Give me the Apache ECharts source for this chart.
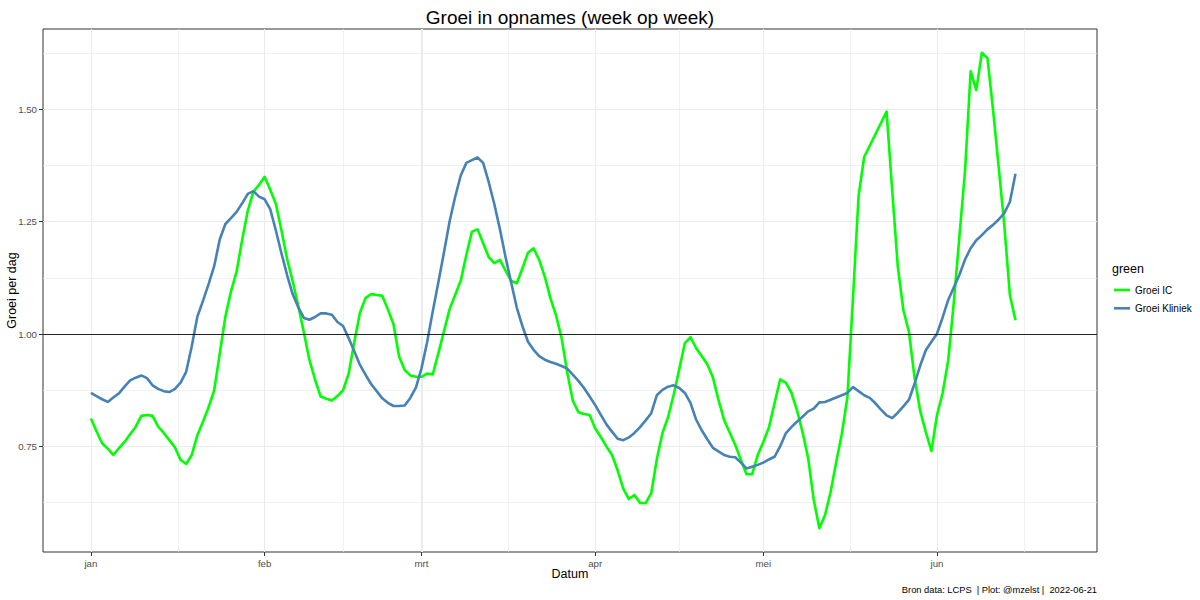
<!DOCTYPE html>
<html><head><meta charset="utf-8">
<script src="https://cdn.jsdelivr.net/npm/echarts@6/dist/echarts.min.js"></script>
<style>html,body{margin:0;padding:0;background:#fff}#c{width:1200px;height:600px}</style>
</head><body><div id="c"></div>
<script>
// x values are days since 2022-01-01
const monthStarts = [0, 31, 59, 90, 120, 151];
const monthLabels = ['jan', 'feb', 'mrt', 'apr', 'mei', 'jun'];
const minorX = [15.5, 45, 74.5, 105, 135.5, 166.5];
const marchLine = [59];
const yTicks = [0.75, 1.00, 1.25, 1.50];
const yMinor = [0.625, 0.875, 1.125, 1.375, 1.625];
const lastDay = 171; // 2022-06-21

const icDays = [0,1,2,3,4,5,6,7,8,9,10,11,12,13,14,15,16,17,18,19,20,21,22,23,24,25,26,27,28,29,30,31,32,33,34,35,36,37,38,39,40,41,42,43,44,45,46,47,48,49,50,51,52,53,54,55,56,57,58,59,60,61,62,63,64,65,66,67,68,69,70,71,72,73,74,75,76,77,78,79,80,81,82,83,84,85,86,87,88,89,90,91,92,93,94,95,96,97,98,99,100,101,102,103,104,105,106,107,108,109,110,111,112,113,114,115,116,117,118,119,120,121,122,123,124,125,126,127,128,129,130,131,132,133,134,135,136,137,138,142,143,144,145,146,147,148,149,150,151,152,153,154,155,156,157,158,159,160,161,162,163,164,165];
const icValues = [0.812,0.784,0.757,0.745,0.731,0.746,0.760,0.777,0.794,0.818,0.820,0.818,0.794,0.780,0.764,0.748,0.720,0.711,0.731,0.775,0.805,0.837,0.875,0.957,1.039,1.095,1.139,1.210,1.275,1.317,1.332,1.350,1.321,1.290,1.231,1.168,1.118,1.063,1.004,0.942,0.899,0.861,0.856,0.852,0.862,0.875,0.912,0.982,1.047,1.080,1.089,1.087,1.085,1.055,1.022,0.950,0.920,0.908,0.905,0.905,0.912,0.910,0.957,1.006,1.055,1.087,1.119,1.176,1.228,1.233,1.202,1.171,1.158,1.165,1.141,1.118,1.113,1.146,1.181,1.191,1.165,1.128,1.080,1.042,0.991,0.915,0.852,0.826,0.822,0.820,0.790,0.771,0.750,0.731,0.697,0.656,0.633,0.642,0.624,0.624,0.646,0.722,0.780,0.815,0.865,0.922,0.980,0.993,0.969,0.951,0.933,0.904,0.853,0.809,0.781,0.753,0.720,0.688,0.688,0.731,0.760,0.792,0.846,0.899,0.892,0.870,0.831,0.782,0.724,0.631,0.568,0.597,0.648,0.715,0.777,0.859,1.080,1.307,1.394,1.495,1.320,1.150,1.053,1.004,0.902,0.829,0.782,0.740,0.820,0.869,0.942,1.071,1.218,1.363,1.585,1.543,1.626,1.614,1.499,1.372,1.243,1.087,1.031];

const klDays = [0,1,2,3,4,5,6,7,8,9,10,11,12,13,14,15,16,17,18,19,20,21,22,23,24,25,26,27,28,29,30,31,32,33,34,35,36,37,38,39,40,41,42,43,44,45,46,47,48,49,50,51,52,53,54,55,56,57,58,59,60,61,62,63,64,65,66,67,68,69,70,71,72,73,74,75,76,77,78,79,80,81,82,83,84,85,86,87,88,89,90,91,92,93,94,95,96,97,98,99,100,101,102,103,104,105,106,107,108,109,110,111,112,113,114,115,116,117,118,119,120,121,122,123,124,125,126,127,128,129,130,131,132,133,134,135,136,137,138,139,140,141,142,143,144,145,146,147,148,149,150,151,152,153,154,155,156,157,158,159,160,161,162,163,164,165];
const klValues = [0.869,0.862,0.855,0.849,0.859,0.868,0.883,0.897,0.903,0.908,0.902,0.886,0.878,0.873,0.871,0.878,0.892,0.916,0.973,1.039,1.074,1.111,1.151,1.211,1.245,1.258,1.272,1.291,1.312,1.318,1.306,1.300,1.278,1.231,1.180,1.132,1.089,1.060,1.036,1.032,1.038,1.046,1.046,1.043,1.027,1.018,0.991,0.962,0.932,0.910,0.889,0.873,0.857,0.847,0.840,0.840,0.841,0.858,0.881,0.924,0.982,1.050,1.115,1.181,1.250,1.305,1.353,1.381,1.387,1.393,1.381,1.338,1.289,1.233,1.171,1.115,1.059,1.018,0.983,0.965,0.951,0.943,0.938,0.934,0.929,0.923,0.910,0.896,0.880,0.861,0.842,0.820,0.799,0.783,0.767,0.764,0.770,0.780,0.793,0.808,0.824,0.864,0.876,0.883,0.886,0.880,0.869,0.847,0.810,0.786,0.766,0.747,0.739,0.731,0.727,0.726,0.714,0.701,0.705,0.709,0.714,0.721,0.727,0.750,0.779,0.793,0.805,0.816,0.828,0.834,0.848,0.849,0.854,0.859,0.864,0.869,0.882,0.873,0.864,0.858,0.846,0.832,0.819,0.813,0.825,0.839,0.854,0.890,0.930,0.964,0.983,1.001,1.037,1.076,1.104,1.132,1.166,1.191,1.209,1.220,1.233,1.243,1.255,1.269,1.294,1.357];

const FONT = 'Arial, "Liberation Sans", sans-serif';
const icData = icDays.map((d, i) => [d, icValues[i]]);
const klData = klDays.map((d, i) => [d, klValues[i]]);

// ggplot-style 5% expansion
const xMin = 0 - 0.05 * lastDay, xMax = lastDay + 0.05 * lastDay;
const allV = icValues.concat(klValues);
const vMin = Math.min(...allV), vMax = Math.max(...allV), vR = vMax - vMin;
const yMin = vMin - 0.05 * vR, yMax = vMax + 0.05 * vR;

function gridAxis(type, pos, values, width, color) {
  return {type: 'value', min: type === 'x' ? xMin : yMin, max: type === 'x' ? xMax : yMax, position: pos,
          axisLine: {show: false, onZero: false}, axisTick: {show: false, customValues: values},
          axisLabel: {show: false}, splitLine: {show: true, lineStyle: {color: color, width: width}}};
}

const chart = echarts.init(document.getElementById('c'), null, {renderer: 'svg', width: 1200, height: 600});
chart.setOption({
  animation: false,
  backgroundColor: '#ffffff',
  grid: {left: 43, right: 103, top: 29, bottom: 48, show: true, borderColor: '#333333', borderWidth: 1,
         backgroundColor: 'transparent', containLabel: false, outerBoundsMode: 'none'},
  xAxis: [
    {type: 'value', min: xMin, max: xMax, position: 'bottom',
     axisLine: {show: false, onZero: false},
     axisTick: {show: true, length: 4, customValues: monthStarts, lineStyle: {color: '#333333', width: 1}},
     axisLabel: {customValues: monthStarts, margin: 6, color: '#4D4D4D', fontSize: 9.7, fontFamily: FONT,
                 formatter: v => monthLabels[monthStarts.indexOf(v)]},
     splitLine: {show: true, lineStyle: {color: '#EBEBEB', width: 1.1}},
     name: 'Datum', nameLocation: 'middle', nameGap: 15, nameMoveOverlap: false,
     nameTextStyle: {color: '#000', fontSize: 12.5, fontFamily: FONT}},
    gridAxis('x', 'top', minorX, 0.7, '#EBEBEB'),
    gridAxis('x', 'top', marchLine, 2, '#EBEBEB')
  ],
  yAxis: [
    {type: 'value', min: yMin, max: yMax, position: 'left',
     axisLine: {show: false, onZero: false},
     axisTick: {show: true, length: 4, customValues: yTicks, lineStyle: {color: '#333333', width: 1}},
     axisLabel: {customValues: yTicks, margin: 6, color: '#4D4D4D', fontSize: 9.7, fontFamily: FONT,
                 formatter: v => v.toFixed(2)},
     splitLine: {show: true, lineStyle: {color: '#EBEBEB', width: 1.1}},
     name: 'Groei per dag', nameLocation: 'middle', nameRotate: 90, nameGap: 25, nameMoveOverlap: false,
     nameTextStyle: {color: '#000', fontSize: 12.5, fontFamily: FONT}},
    gridAxis('y', 'right', yMinor, 0.7, '#EBEBEB')
  ],
  legend: {orient: 'vertical', left: 1114, top: 283.5, padding: 0, itemWidth: 16, itemHeight: 2.6, itemGap: 5.3,
           icon: 'rect', data: ['Groei IC', 'Groei Kliniek'],
           textStyle: {color: '#000', fontSize: 10, lineHeight: 13, fontFamily: FONT}},
  graphic: [
    {type: 'text', x: 570, y: 17, silent: true,
     style: {text: 'Groei in opnames (week op week)', font: '19px ' + FONT, fill: '#000',
             textAlign: 'center', textVerticalAlign: 'middle', align: 'center', verticalAlign: 'middle'}},
    {type: 'text', x: 1112, y: 269, silent: true,
     style: {text: 'green', font: '12.5px ' + FONT, fill: '#000',
             textAlign: 'left', textVerticalAlign: 'middle', align: 'left', verticalAlign: 'middle'}},
    {type: 'text', x: 1097, y: 590, silent: true,
     style: {text: 'Bron data: LCPS  | Plot: @mzelst |  2022-06-21', font: '9.3px ' + FONT, fill: '#000',
             textAlign: 'right', textVerticalAlign: 'middle', align: 'right', verticalAlign: 'middle'}}
  ],
  series: [
    {name: 'Groei IC', type: 'line', data: icData, xAxisIndex: 0, yAxisIndex: 0,
     showSymbol: false, symbol: 'none', color: '#00FF00', z: 3,
     lineStyle: {color: '#00FF00', width: 2.6, join: 'round', cap: 'butt'},
     emphasis: {disabled: true}},
    {name: 'Groei Kliniek', type: 'line', data: klData, xAxisIndex: 0, yAxisIndex: 0,
     showSymbol: false, symbol: 'none', color: '#4682B4', z: 3,
     lineStyle: {color: '#4682B4', width: 2.6, join: 'round', cap: 'butt'},
     emphasis: {disabled: true},
     markLine: {silent: true, symbol: ['none', 'none'], label: {show: false}, animation: false,
                lineStyle: {color: '#000000', width: 1.1, type: 'solid', opacity: 0.85},
                emphasis: {disabled: true},
                data: [{yAxis: 1}]}}
  ]
});
</script></body></html>
